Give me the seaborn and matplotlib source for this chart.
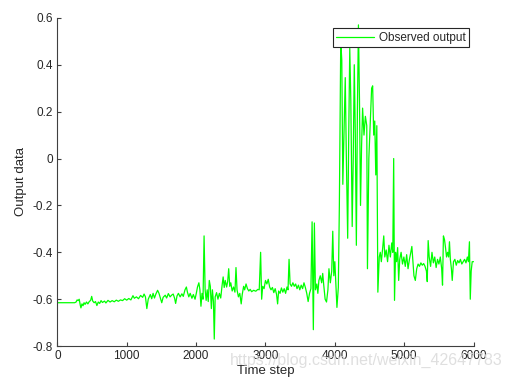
import matplotlib
matplotlib.use("Agg")
import matplotlib.pyplot as plt
import seaborn as sns
import pandas as pd

time_step = [
    0, 250, 270, 285, 300, 315, 330, 340, 355, 370, 385, 400, 420, 440, 460, 480, 495, 510, 530, 550,
    570, 590, 610, 630, 650, 680, 700, 730, 760, 790, 820, 850, 880, 910, 940, 970, 1000, 1030, 1060, 1090,
    1110, 1140, 1170, 1200, 1230, 1250, 1270, 1290, 1310, 1340, 1360, 1380, 1400, 1420, 1445, 1465, 1485, 1505, 1525, 1555,
    1575, 1600, 1625, 1650, 1670, 1690, 1705, 1725, 1745, 1770, 1795, 1815, 1840, 1860, 1875, 1895, 1915, 1940, 1960, 1985,
    2005, 2020, 2040, 2055, 2070, 2085, 2100, 2115, 2130, 2145, 2160, 2175, 2190, 2205, 2220, 2235, 2250, 2262, 2275, 2295,
    2315, 2335, 2355, 2375, 2390, 2405, 2420, 2440, 2455, 2470, 2485, 2500, 2520, 2540, 2560, 2575, 2590, 2610, 2630, 2650,
    2665, 2685, 2700, 2720, 2740, 2760, 2780, 2800, 2830, 2860, 2890, 2910, 2930, 2945, 2960, 2980, 3000, 3020, 3040, 3060,
    3080, 3100, 3120, 3140, 3160, 3175, 3190, 3210, 3230, 3250, 3270, 3290, 3310, 3325, 3340, 3355, 3375, 3395, 3415, 3435,
    3455, 3475, 3495, 3515, 3535, 3555, 3575, 3595, 3615, 3635, 3655, 3672, 3690, 3705, 3720, 3740, 3755, 3770, 3790, 3810,
    3825, 3840, 3860, 3880, 3900, 3915, 3935, 3955, 3970, 3985, 4000, 4015, 4030, 4050, 4065, 4085, 4100, 4115, 4135, 4150,
    4165, 4185, 4200, 4215, 4230, 4250, 4265, 4280, 4295, 4310, 4325, 4340, 4355, 4370, 4385, 4400, 4420, 4440, 4460, 4470,
    4490, 4510, 4530, 4545, 4560, 4575, 4590, 4605, 4620, 4640, 4655, 4670, 4690, 4705, 4720, 4740, 4760, 4780, 4800, 4820,
    4835, 4848, 4860, 4875, 4890, 4905, 4920, 4935, 4955, 4975, 4995, 5015, 5035, 5055, 5075, 5095, 5110, 5125, 5140, 5160,
    5180, 5200, 5220, 5240, 5260, 5280, 5300, 5320, 5332, 5345, 5360, 5380, 5400, 5420, 5440, 5460, 5480, 5500, 5520, 5540,
    5552, 5565, 5580, 5595, 5610, 5625, 5640, 5652, 5665, 5680, 5692, 5710, 5730, 5750, 5770, 5790, 5810, 5830, 5850, 5870,
    5890, 5910, 5925, 5940, 5952, 5965, 5980, 6000,
]

output_value = [
    -0.615, -0.615, -0.612, -0.603, -0.606, -0.600, -0.625, -0.637, -0.620, -0.628, -0.615, -0.622, -0.612, -0.620, -0.610, -0.605, -0.588, -0.608, -0.615, -0.610,
    -0.627, -0.612, -0.618, -0.606, -0.614, -0.608, -0.616, -0.605, -0.612, -0.606, -0.611, -0.604, -0.609, -0.603, -0.606, -0.598, -0.604, -0.597, -0.603, -0.585,
    -0.596, -0.590, -0.598, -0.584, -0.592, -0.578, -0.590, -0.640, -0.600, -0.580, -0.598, -0.575, -0.595, -0.578, -0.562, -0.575, -0.595, -0.615, -0.592, -0.583,
    -0.595, -0.576, -0.590, -0.582, -0.578, -0.596, -0.618, -0.586, -0.575, -0.590, -0.577, -0.588, -0.560, -0.548, -0.570, -0.590, -0.575, -0.596, -0.580, -0.600,
    -0.572, -0.548, -0.530, -0.560, -0.630, -0.575, -0.600, -0.330, -0.560, -0.605, -0.560, -0.610, -0.520, -0.545, -0.640, -0.560, -0.610, -0.770, -0.590, -0.572,
    -0.600, -0.575, -0.595, -0.540, -0.505, -0.550, -0.520, -0.548, -0.525, -0.470, -0.545, -0.530, -0.565, -0.548, -0.570, -0.465, -0.560, -0.590, -0.575, -0.620,
    -0.580, -0.545, -0.560, -0.535, -0.555, -0.565, -0.558, -0.568, -0.562, -0.566, -0.558, -0.560, -0.400, -0.600, -0.545, -0.555, -0.520, -0.535, -0.515, -0.548,
    -0.560, -0.550, -0.572, -0.555, -0.580, -0.620, -0.565, -0.575, -0.552, -0.570, -0.555, -0.575, -0.548, -0.560, -0.430, -0.535, -0.545, -0.530, -0.545, -0.535,
    -0.555, -0.540, -0.560, -0.540, -0.555, -0.530, -0.550, -0.575, -0.610, -0.575, -0.555, -0.270, -0.730, -0.275, -0.560, -0.535, -0.575, -0.520, -0.500, -0.530,
    -0.490, -0.540, -0.600, -0.612, -0.560, -0.470, -0.530, -0.480, -0.310, -0.500, -0.440, -0.540, -0.635, -0.550, -0.200, 0.500, 0.420, -0.110, 0.150, 0.345,
    0.020, -0.340, 0.100, 0.470, 0.250, -0.290, 0.000, 0.400, 0.100, -0.370, 0.200, 0.570, 0.250, -0.200, 0.050, 0.215, 0.100, 0.180, 0.140, -0.470,
    0.000, 0.150, 0.300, 0.310, 0.100, 0.160, -0.070, 0.140, -0.570, -0.420, -0.400, -0.440, -0.380, -0.330, -0.420, -0.390, -0.440, -0.370, -0.420, -0.360,
    -0.400, 0.000, -0.605, -0.400, -0.440, -0.380, -0.520, -0.430, -0.400, -0.450, -0.420, -0.460, -0.410, -0.470, -0.430, -0.400, -0.375, -0.440, -0.500, -0.520,
    -0.470, -0.450, -0.460, -0.445, -0.455, -0.448, -0.460, -0.480, -0.525, -0.350, -0.420, -0.460, -0.400, -0.445, -0.420, -0.465, -0.430, -0.450, -0.420, -0.470,
    -0.540, -0.330, -0.345, -0.380, -0.420, -0.400, -0.420, -0.355, -0.430, -0.470, -0.520, -0.440, -0.430, -0.455, -0.435, -0.445, -0.430, -0.450, -0.440, -0.430,
    -0.445, -0.420, -0.440, -0.355, -0.600, -0.480, -0.440, -0.440,
]

x_ticks = [0, 1000, 2000, 3000, 4000, 5000, 6000]
y_ticks = [-0.8, -0.6, -0.4, -0.2, 0.0, 0.2, 0.4, 0.6]
y_tick_labels = ["-0.8", "-0.6", "-0.4", "-0.2", "0", "0.2", "0.4", "0.6"]

sns.set_theme(style="white")
plt.rcParams["font.family"] = ["Liberation Sans", "DejaVu Sans"]

df = pd.DataFrame({"Time step": time_step, "Output data": output_value})

fig = plt.figure(figsize=(5.12, 3.88), dpi=100)
ax = fig.add_axes([0.112, 0.108, 0.813, 0.846])

sns.lineplot(data=df, x="Time step", y="Output data", color="#00ff00",
             linewidth=0.9, ax=ax, label="Observed output")

ax.set_xlim(0, 6000)
ax.set_ylim(-0.8, 0.6)
ax.set_xticks(x_ticks)
ax.set_xticklabels([str(v) for v in x_ticks])
ax.set_yticks(y_ticks)
ax.set_yticklabels(y_tick_labels)

for side in ["top", "right"]:
    ax.spines[side].set_visible(False)
for side in ["left", "bottom"]:
    ax.spines[side].set_color("#404040")
    ax.spines[side].set_linewidth(0.8)

ax.tick_params(axis="both", direction="in", length=3, width=0.8, color="#404040",
               labelsize=8.5, labelcolor="#262626", bottom=True, left=True, pad=3)

ax.set_xlabel("Time step", fontsize=9.5, color="#262626", labelpad=2)
ax.set_ylabel("Output data", fontsize=9.5, color="#262626", labelpad=4)

leg = ax.legend(loc="upper right", bbox_to_anchor=(0.995, 0.975), fontsize=8.5,
                frameon=True, fancybox=False, framealpha=1, borderpad=0.3,
                handlelength=3.2, handletextpad=0.4, borderaxespad=0.2)
leg.get_frame().set_edgecolor("#262626")
leg.get_frame().set_linewidth(0.8)

fig.text(0.982, 0.072, "https://blog.csdn.net/weixin_42647783", ha="right", va="center",
         fontsize=11.5, color="#dadada", alpha=0.85, zorder=0)

fig.savefig("out.png", dpi=100)
